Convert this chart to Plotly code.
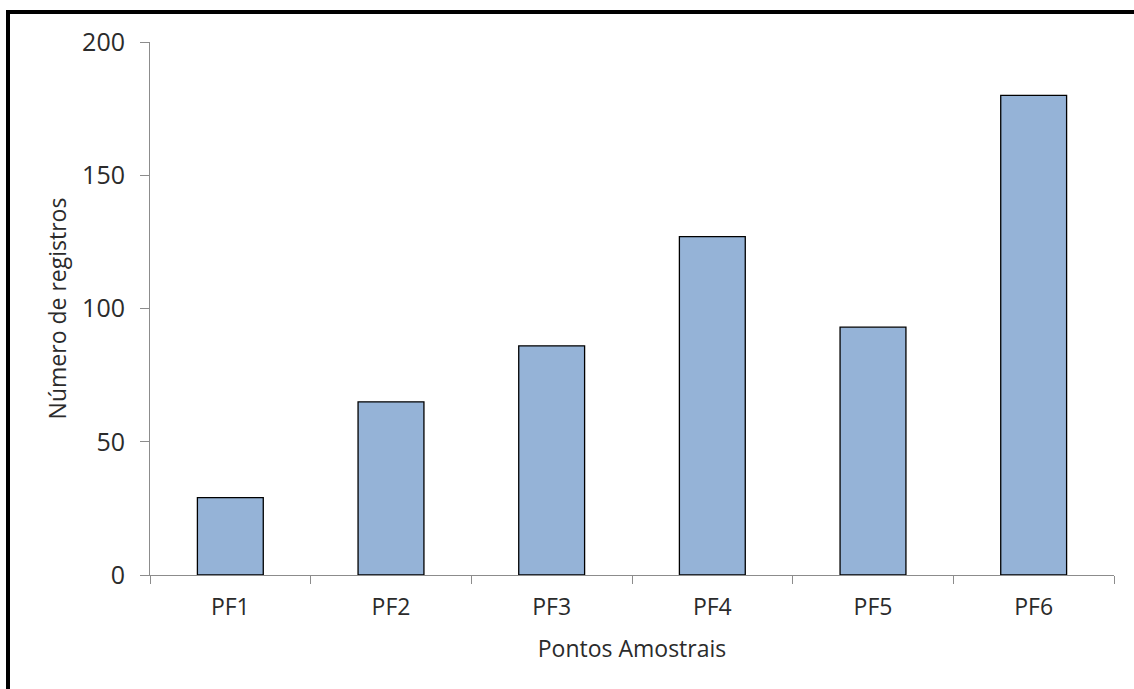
import plotly.graph_objects as go

categories = ["PF1", "PF2", "PF3", "PF4", "PF5", "PF6"]
registros = [29, 65, 86, 127, 93, 180]
y_ticks = [0, 50, 100, 150, 200]

W, H = 1134, 689
L, R, T, B = 150, 20, 42, 114
pw = W - L - R
ph = H - T - B

def px_x(x):
    return (x - L) / pw

def px_y(y):
    return (H - B - y) / ph

font_family = "Open Sans, Noto Sans, sans-serif"
txt = "#2b2b2b"
axis_col = "#8c8c8c"

fig = go.Figure(go.Bar(
    x=categories,
    y=registros,
    marker=dict(color="#95B3D7", line=dict(color="#000000", width=1.3)),
    width=0.41,
))

fig.update_layout(
    width=W, height=H,
    margin=dict(l=L, r=R, t=T, b=B, autoexpand=False),
    paper_bgcolor="white",
    plot_bgcolor="white",
    showlegend=False,
    font=dict(family=font_family, size=22, color=txt),
    xaxis=dict(
        type="category",
        showline=True, linecolor=axis_col, linewidth=1,
        ticks="outside", tickson="boundaries", ticklen=8, tickcolor=axis_col, tickwidth=1,
        showgrid=False,
        tickfont=dict(size=23, color=txt),
        ticklabelstandoff=11,
        title=dict(text="Pontos Amostrais", font=dict(size=23, color=txt), standoff=20),
        range=[-0.5, 5.5],
    ),
    yaxis=dict(
        range=[0, 200],
        tickvals=y_ticks,
        showline=True, linecolor=axis_col, linewidth=1,
        ticks="outside", ticklen=9, tickcolor=axis_col, tickwidth=1,
        showgrid=False, zeroline=False,
        tickfont=dict(size=25, color=txt),
        ticklabelstandoff=10,
        title=dict(text="Número de registros", font=dict(size=23, color=txt), standoff=9),
    ),
    shapes=[
        dict(type="line", xref="paper", yref="paper",
             x0=px_x(8), x1=px_x(8), y0=px_y(10), y1=px_y(H + 5),
             line=dict(color="black", width=4)),
        dict(type="line", xref="paper", yref="paper",
             x0=px_x(6), x1=px_x(W + 5), y0=px_y(12), y1=px_y(12),
             line=dict(color="black", width=4)),
    ],
)

fig.write_html("out.html")
